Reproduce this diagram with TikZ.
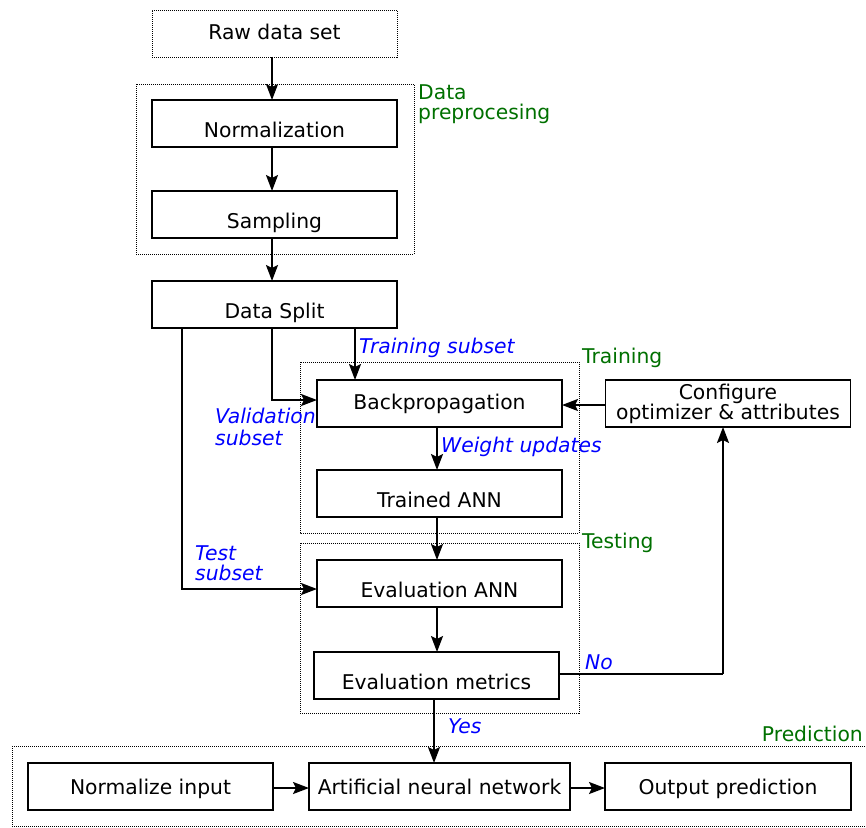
\documentclass[tikz,border=0pt]{standalone}
\usepackage{fontspec}
\setmainfont{DejaVu Sans}
\usetikzlibrary{arrows.meta}
\definecolor{lblue}{RGB}{0,0,255}
\definecolor{lgreen}{RGB}{0,112,0}
\begin{document}
\begin{tikzpicture}[x=1pt,y=-1pt,
  font=\fontsize{20.3}{21}\selectfont,
  box/.style={draw,line width=1.3pt,minimum width=245pt,minimum height=47pt,
    inner sep=0pt,outer sep=0pt,text height=16pt,text depth=4pt},
  lowbox/.style={box,text height=31pt},
  group/.style={draw,line width=0.7pt,dash pattern=on 1pt off 1pt},
  arr/.style={line width=2pt,-{Stealth[length=16pt,width=12pt,inset=3pt]}},
  conn/.style={line width=2pt},
  note/.style={text=lblue,font=\fontsize{20.3}{22}\selectfont\itshape,inner sep=0pt,align=left},
  stage/.style={text=lgreen,inner sep=0pt,align=left,font=\fontsize{20.3}{20}\selectfont}]
\useasboundingbox (0,0) rectangle (866,827);

% stage frames
\draw[group] (136,84) rectangle (414,254);
\draw[group] (300,362) rectangle (579,533);
\draw[group] (300,543) rectangle (579,713);
\draw[group] (12,746) -- (866,746);
\draw[group] (12,746) -- (12,826) -- (866,826);

% stage titles
\node[stage,anchor=west] (tprep) at (418,104.5) {Data\\preprocesing};
\node[stage,anchor=west] (ttrain) at (582,357.5) {Training};
\node[stage,anchor=west] (ttest) at (582,542.5) {Testing};
\node[stage,anchor=east] (tpred) at (863,733.5) {Prediction};

% processing steps
\node[box,group,line width=0.7pt] (raw) at (274.5,33.5) {Raw data set};
\node[lowbox] (norm) at (274.5,123.5) {Normalization};
\node[lowbox] (samp) at (274.5,214.5) {Sampling};
\node[lowbox] (split) at (274.5,304.5) {Data Split};
\node[box] (bp) at (439.5,403.5) {Backpropagation};
\node[box,align=center,text height=,text depth=,font=\fontsize{20.3}{20}\selectfont] (cfg) at (728,403.5) {Configure\\optimizer \& attributes};
\node[lowbox] (trained) at (439.5,493.5) {Trained ANN};
\node[lowbox] (evalann) at (439.5,583.5) {Evaluation ANN};
\node[lowbox] (em) at (436.5,675.5) {Evaluation metrics};
\node[box,text height=19pt] (normin) at (150.5,786.5) {Normalize input};
\node[box,text height=19pt,minimum width=261pt] (ann) at (439.5,786.5) {Artificial neural network};
\node[box,text height=19pt,minimum width=246pt] (out) at (728,786.5) {Output prediction};

% main flow
\draw[arr] ([xshift=-2.5]raw.south) -- ([xshift=-2.5]norm.north);
\draw[arr] ([xshift=-2.5]norm.south) -- ([xshift=-2.5]samp.north);
\draw[arr] ([xshift=-2.5]samp.south) -- ([xshift=-2.5]split.north);

% subsets out of the split
\draw[arr] ([xshift=80.5]split.south) -- ([xshift=80.5]split.south |- bp.north);
\draw[arr] ([xshift=-2.5]split.south) |- ([yshift=3.5]bp.west);
\draw[arr] ([xshift=-92.5]split.south) |- ([yshift=-5.5]evalann.west);

% training and testing
\draw[arr] ([yshift=-1.5]cfg.west) -- ([yshift=-1.5]bp.east);
\draw[arr] ([xshift=-2.5]bp.south) -- ([xshift=-2.5]trained.north);
\draw[arr] ([xshift=-2.5]trained.south) -- ([xshift=-2.5]evalann.north);
\draw[arr] ([xshift=-2.5]evalann.south) -- ([xshift=0.5]em.north);
\coordinate (nocorner) at (723,674);
\draw[conn] (em.east |- nocorner) -- (nocorner);
\draw[arr] (nocorner) -- (nocorner |- cfg.south);
\draw[arr] ([xshift=-2.5]em.south) -- ([xshift=-2.5]em.south |- ann.north);

% prediction
\draw[arr] ([yshift=-1.5]normin.east) -- ([yshift=-1.5]ann.west);
\draw[arr] ([yshift=-1.5]ann.east) -- ([yshift=-1.5]out.west);

% edge labels
\node[note,anchor=west] (ltrain) at (359,347.5) {Training subset};
\node[note,anchor=west,font=\fontsize{20.3}{22}\selectfont\itshape] (lval) at (215,426.5) {Validation\\subset};
\node[note,anchor=west] (lwu) at (441,447) {Weight updates};
\node[note,anchor=west,font=\fontsize{20.3}{20}\selectfont\itshape] (ltest) at (195,563) {Test\\subset};
\node[note,anchor=west] (lno) at (585,662.5) {No};
\node[note,anchor=west] (lyes) at (448,726) {Yes};
\end{tikzpicture}
\end{document}
